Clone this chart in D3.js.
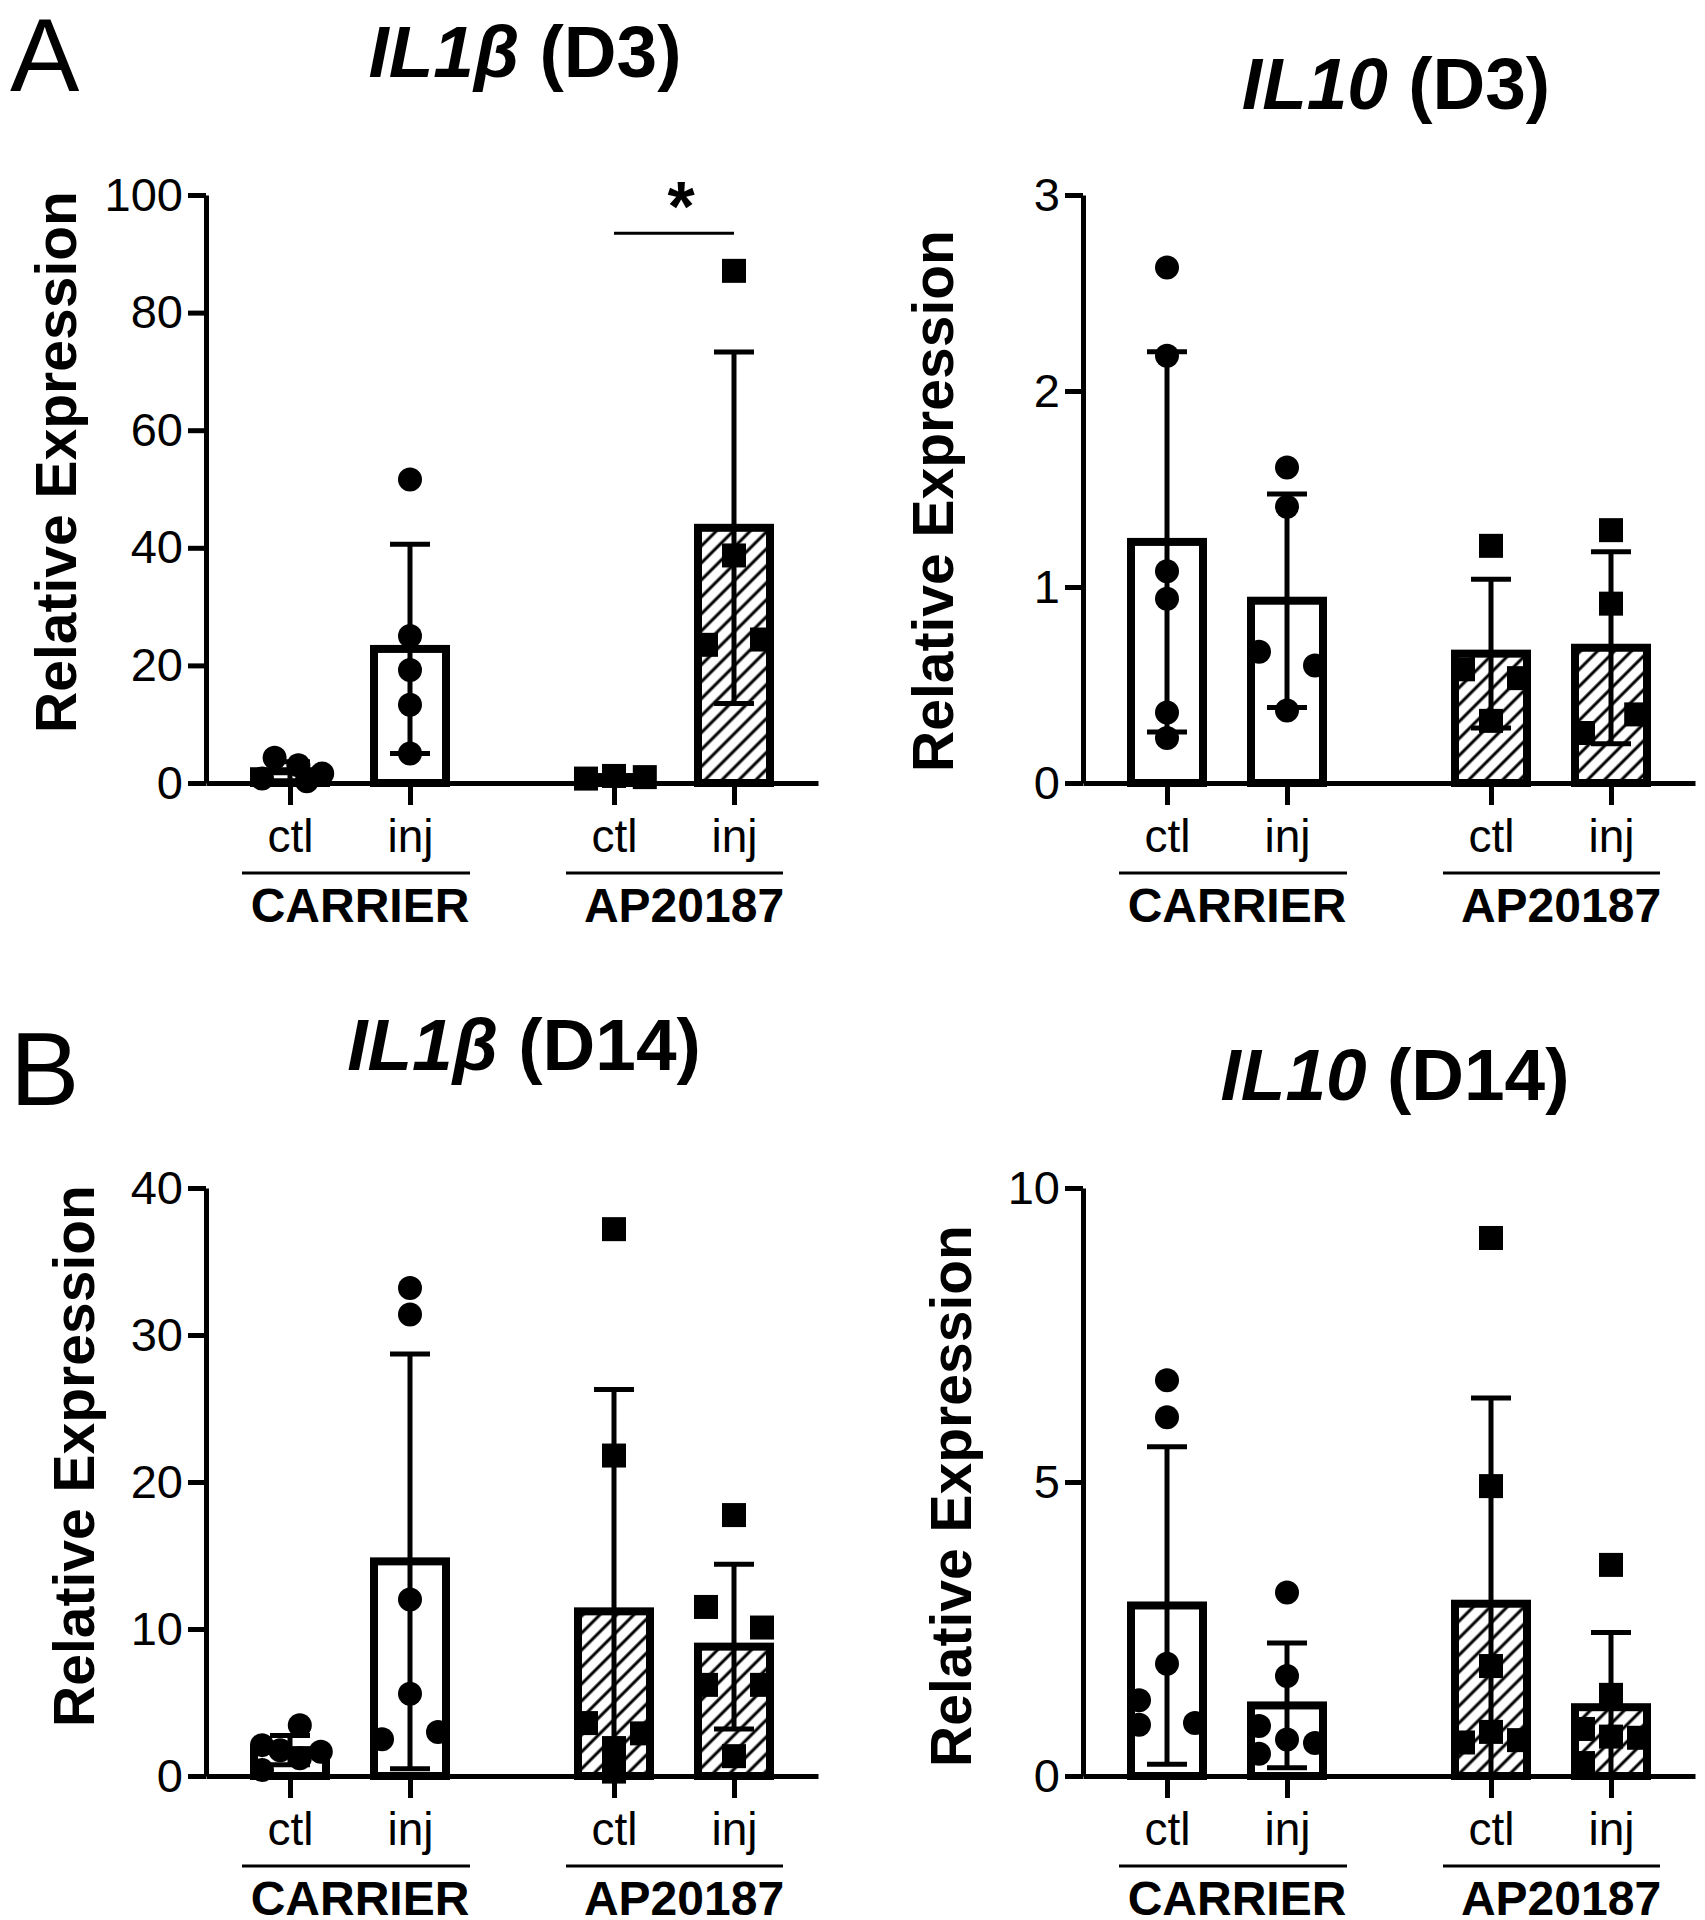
<!DOCTYPE html>
<html><head><meta charset="utf-8">
<script src="https://cdn.jsdelivr.net/npm/d3@7"></script>
<style>
body{margin:0;background:#fff}
svg{display:block}
text{font-family:"Liberation Sans",Arial,Helvetica,sans-serif;fill:#000}
</style>
</head><body>
<svg id="c" width="1705" height="1920"></svg>
<script>
// ---------- DATA ----------
const groups = ["CARRIER", "AP20187"];
const categories = ["ctl", "inj", "ctl", "inj"];
const catGroup = [0, 0, 1, 1];

// IL1β (D3)
const il1b_d3_mean = [2.0, 22.8, 1.0, 43.4];
const il1b_d3_sd = [1.6, 17.8, 0.23, 29.9];
const il1b_d3_points = [[4.3, 3.0, 1.6, 0.75, 0.3], [51.6, 25.0, 19.2, 13.3, 5.0], [1.2, 1.0, 0.75], [87.1, 38.7, 24.4, 23.5]];
const il1b_d3_jitter = [[-0.55, 0.3, 1.15, -1, 0.6], [0, 0, 0, 0, 0], [0, 1.1, -1], [0, 0, 1, -1]];
const il1b_d3_ticks = [0, 20, 40, 60, 80, 100];

// IL10 (D3)
const il10_d3_mean = [1.23, 0.93, 0.66, 0.69];
const il10_d3_sd = [0.97, 0.545, 0.38, 0.49];
const il10_d3_points = [[2.63, 2.18, 1.08, 0.94, 0.36, 0.23], [1.61, 1.41, 0.67, 0.60, 0.37], [1.21, 0.58, 0.535, 0.317], [1.29, 0.915, 0.35, 0.255]];
const il10_d3_jitter = [[0, 0, 0, 0, 0, 0], [0, 0, -1, 1, 0], [0, -1, 1, 0], [0, 0, 0.9, -1]];
const il10_d3_ticks = [0, 1, 2, 3];

// IL1β (D14)
const il1b_d14_mean = [1.76, 14.6, 11.2, 8.8];
const il1b_d14_sd = [1.0, 14.1, 15.1, 5.6];
const il1b_d14_points = [[3.45, 2.1, 1.75, 1.65, 1.2, 0.4], [33.2, 31.4, 12.0, 5.6, 2.5, 3.0], [37.2, 21.8, 3.6, 2.9, 1.9, 0.3], [17.75, 11.5, 10.1, 6.2, 6.2, 1.35]];
const il1b_d14_jitter = [[0.35, -1, -0.35, 1.1, 0.35, -1], [0, 0, 0, 0, -1, 1], [0, 0, -1, 1, 0, 0], [0, -1, 1, -1, 1, 0]];
const il1b_d14_ticks = [0, 10, 20, 30, 40];

// IL10 (D14)
const il10_d14_mean = [2.9, 1.2, 2.93, 1.17];
const il10_d14_sd = [2.7, 1.06, 3.5, 1.27];
const il10_d14_points = [[6.73, 6.1, 1.91, 1.29, 0.87, 0.9], [3.12, 1.7, 0.85, 0.62, 0.56, 0.38], [9.15, 4.93, 1.87, 0.75, 0.57, 0.61], [3.59, 1.38, 0.8, 0.67, 0.65, 0.22]];
const il10_d14_jitter = [[0, 0, 0, -1, -1, 1], [0, 0, -1, 0, 1, -1], [0, 0, 0, 0, -1, 1], [0, 0, -1, 0, 1, -1]];
const il10_d14_ticks = [0, 5, 10];

// significance bracket (panel A, IL1β D3): AP20187 ctl vs inj
const sig_il1b_d3 = {from: 2, to: 3, value: 93.5, label: "*"};

// ---------- LAYOUT ----------
const panels = [
  {gene: "IL1β", day: " (D3)", mean: il1b_d3_mean, sd: il1b_d3_sd, pts: il1b_d3_points, jit: il1b_d3_jitter, ticks: il1b_d3_ticks,
   x0: 206, yTop: 195, yBot: 783, tx: 525, ty: 77, ax: 55, ay: 462, sig: sig_il1b_d3},
  {gene: "IL10", day: " (D3)", mean: il10_d3_mean, sd: il10_d3_sd, pts: il10_d3_points, jit: il10_d3_jitter, ticks: il10_d3_ticks,
   x0: 1083, yTop: 195, yBot: 783, tx: 1396, ty: 109, ax: 932, ay: 501},
  {gene: "IL1β", day: " (D14)", mean: il1b_d14_mean, sd: il1b_d14_sd, pts: il1b_d14_points, jit: il1b_d14_jitter, ticks: il1b_d14_ticks,
   x0: 206, yTop: 1188, yBot: 1776, tx: 524, ty: 1070, ax: 73, ay: 1456},
  {gene: "IL10", day: " (D14)", mean: il10_d14_mean, sd: il10_d14_sd, pts: il10_d14_points, jit: il10_d14_jitter, ticks: il10_d14_ticks,
   x0: 1083, yTop: 1188, yBot: 1776, tx: 1395, ty: 1100, ax: 950, ay: 1496}
];
const slots = [0, 1, 2.7, 3.7];
const axisLen = 612;
const barW = 72, barStroke = 8;
const capW = 40, errStroke = 5;
const mk = 24, jitStep = 28;

const svg = d3.select("#c");
svg.append("rect").attr("width", 1705).attr("height", 1920).attr("fill", "#fff");

const defs = svg.append("defs");
const pat = defs.append("pattern").attr("id", "hatch").attr("patternUnits", "userSpaceOnUse")
  .attr("width", 12).attr("height", 12).attr("patternTransform", "rotate(45)");
pat.append("rect").attr("width", 12).attr("height", 12).attr("fill", "#fff");
pat.append("line").attr("x1", 6).attr("y1", 0).attr("x2", 6).attr("y2", 12)
  .attr("stroke", "#000").attr("stroke-width", 3);

// panel letters
svg.append("text").attr("x", 10).attr("y", 91).attr("font-size", 104).text("A");
svg.append("text").attr("x", 10).attr("y", 1105).attr("font-size", 104).text("B");

panels.forEach(p => {
  const g = svg.append("g");
  const y = d3.scaleLinear().domain([0, d3.max(p.ticks)]).range([p.yBot, p.yTop]);
  const x = d3.scaleLinear().domain([-0.7, 4.4]).range([p.x0, p.x0 + axisLen]);
  const xs = slots.map(s => x(s));

  // title
  const t = g.append("text").attr("x", p.tx).attr("y", p.ty).attr("text-anchor", "middle")
    .attr("font-size", 73).attr("font-weight", "bold");
  t.append("tspan").attr("font-style", "italic").text(p.gene);
  t.append("tspan").text(p.day);

  // y label
  g.append("text").attr("transform", `translate(${p.ax},${p.ay}) rotate(-90)`)
    .attr("text-anchor", "middle").attr("dy", "0.36em")
    .attr("font-size", 57).attr("font-weight", "bold").text("Relative Expression");

  // bars
  g.selectAll("rect.bar").data(p.mean).join("rect").attr("class", "bar")
    .attr("x", (d, i) => xs[i] - barW / 2).attr("width", barW)
    .attr("y", d => y(d)).attr("height", d => y(0) - y(d))
    .attr("fill", (d, i) => catGroup[i] ? "url(#hatch)" : "#fff")
    .attr("stroke", "#000").attr("stroke-width", barStroke);

  // points
  p.pts.forEach((arr, i) => {
    const cx = k => xs[i] + p.jit[i][k] * jitStep;
    if (catGroup[i] === 0) {
      g.selectAll(null).data(arr).join("circle")
        .attr("cx", (d, k) => cx(k)).attr("cy", d => y(d)).attr("r", mk / 2).attr("fill", "#000");
    } else {
      g.selectAll(null).data(arr).join("rect")
        .attr("x", (d, k) => cx(k) - mk / 2).attr("y", d => y(d) - mk / 2)
        .attr("width", mk).attr("height", mk).attr("fill", "#000");
    }
  });

  // error bars (mean ± SD)
  p.mean.forEach((m, i) => {
    const hi = m + p.sd[i], lo = Math.max(0, m - p.sd[i]);
    g.append("line").attr("x1", xs[i]).attr("x2", xs[i]).attr("y1", y(lo)).attr("y2", y(hi))
      .attr("stroke", "#000").attr("stroke-width", errStroke);
    g.append("line").attr("x1", xs[i] - capW / 2).attr("x2", xs[i] + capW / 2).attr("y1", y(hi)).attr("y2", y(hi))
      .attr("stroke", "#000").attr("stroke-width", errStroke);
    if (m - p.sd[i] > 0) {
      g.append("line").attr("x1", xs[i] - capW / 2).attr("x2", xs[i] + capW / 2).attr("y1", y(lo)).attr("y2", y(lo))
        .attr("stroke", "#000").attr("stroke-width", errStroke);
    }
  });

  // y axis
  const ya = g.append("g").attr("transform", `translate(${p.x0},0)`)
    .call(d3.axisLeft(y).tickValues(p.ticks).tickFormat(d => String(d)).tickSize(18).tickSizeOuter(0).tickPadding(5));
  // x axis
  const xa = g.append("g").attr("transform", `translate(0,${p.yBot})`)
    .call(d3.axisBottom(x).tickValues(slots).tickFormat((d, i) => categories[i]).tickSize(22).tickSizeOuter(0).tickPadding(14));
  [ya, xa].forEach(a => {
    a.attr("font-family", null).attr("font-size", null);
    a.select(".domain").attr("stroke", "#000").attr("stroke-width", 5);
    a.selectAll(".tick line").attr("stroke", "#000").attr("stroke-width", 5);
    a.selectAll(".tick text").attr("fill", "#000").attr("font-size", 47);
  });
  xa.selectAll(".tick text").attr("font-size", 46);

  // group labels
  groups.forEach((gname, gi) => {
    const a = xs[2 * gi], b = xs[2 * gi + 1];
    g.append("line").attr("x1", a - 48).attr("x2", b + (gi ? 49 : 60))
      .attr("y1", p.yBot + 90).attr("y2", p.yBot + 90).attr("stroke", "#000").attr("stroke-width", 3);
    g.append("text").attr("x", (a + b) / 2 + 10).attr("y", p.yBot + 139).attr("text-anchor", "middle")
      .attr("font-size", 48).attr("font-weight", "bold").text(gname);
  });

  // significance
  if (p.sig) {
    const a = xs[p.sig.from], b = xs[p.sig.to], yy = y(p.sig.value);
    g.append("line").attr("x1", a).attr("x2", b).attr("y1", yy).attr("y2", yy)
      .attr("stroke", "#000").attr("stroke-width", 3);
    g.append("text").attr("x", (a + b) / 2 + 7).attr("y", yy - 2).attr("text-anchor", "middle")
      .attr("font-size", 70).attr("font-weight", "bold").text(p.sig.label);
  }
});
</script>
</body></html>
